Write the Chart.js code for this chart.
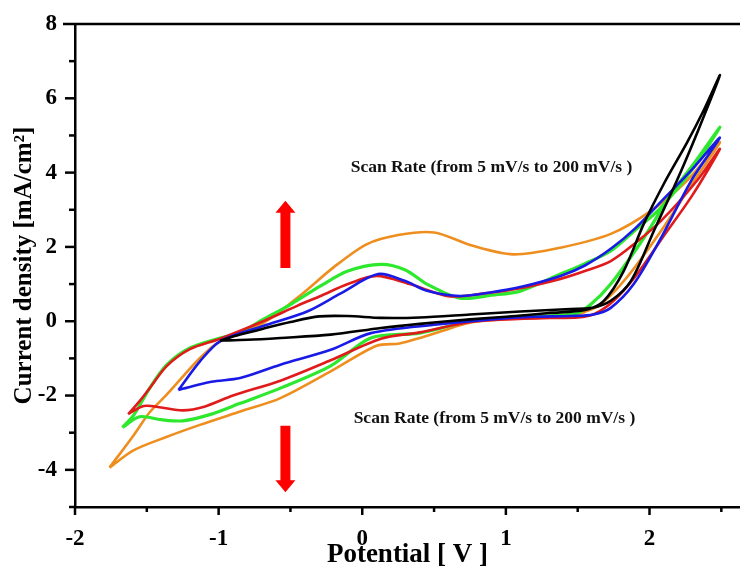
<!DOCTYPE html>
<html lang="en">
<head>
    <meta charset="UTF-8">
    <title>Cyclic voltammetry</title>
    <script src="https://cdn.jsdelivr.net/npm/chart.js@4.4.1/dist/chart.umd.min.js"></script>
    <style>
        html, body {
            margin: 0;
            padding: 0;
            background: #ffffff;
        }
        .wrap {
            width: 740px;
            height: 571px;
        }
    </style>
</head>
<body>
    <div class="wrap">
        <canvas id="cvChart" width="740" height="571"></canvas>
    </div>

    <script>
        // one closed loop per scan rate: forward (anodic) branch, then the return branch
        const potential5 = [-0.99, -0.85, -0.69, -0.5, -0.3, -0.1, 0.13, 0.4, 0.75, 1.1, 1.45, 1.6, 1.73, 1.87, 2.03, 2.19, 2.34, 2.49,
                            2.38, 2.26, 2.1, 1.96, 1.82, 1.68, 1.55, 1.3, 1.0, 0.75, 0.4, 0.13, -0.22, -0.57, -0.8, -0.99];
        const current5 = [-0.52, -0.36, -0.2, -0.02, 0.13, 0.14, 0.09, 0.1, 0.18, 0.26, 0.33, 0.36, 0.55, 1.08, 2.43, 3.78, 5.15, 6.62,
                          5.7, 4.8, 3.7, 2.62, 1.35, 0.54, 0.3, 0.22, 0.12, 0.05, -0.07, -0.18, -0.36, -0.45, -0.5, -0.52];

        const potential20 = [-1.28, -1.13, -0.99, -0.69, -0.38, -0.15, 0.11, 0.3, 0.45, 0.68, 0.9, 1.1, 1.38, 1.55, 1.73, 1.9, 2.1, 2.3, 2.49,
                             2.29, 2.08, 1.89, 1.73, 1.61, 1.45, 1.2, 0.9, 0.52, 0.06, -0.22, -0.57, -0.85, -1.05, -1.28];
        const current20 = [-1.85, -1.08, -0.54, -0.13, 0.27, 0.75, 1.27, 1.08, 0.82, 0.68, 0.78, 0.92, 1.22, 1.5, 1.95, 2.5, 3.3, 4.1, 4.94,
                           3.78, 2.24, 1.0, 0.36, 0.18, 0.14, 0.12, 0.05, -0.09, -0.32, -0.77, -1.17, -1.53, -1.63, -1.85];

        const potential50 = [-1.63, -1.55, -1.48, -1.36, -1.2, -0.99, -0.69, -0.45, -0.29, -0.1, 0.1, 0.33, 0.61, 0.85, 1.1, 1.38, 1.55, 1.73, 1.9, 2.08, 2.33, 2.49,
                             2.3, 2.1, 1.9, 1.75, 1.62, 1.5, 1.31, 1.0, 0.75, 0.4, 0.13, -0.22, -0.57, -0.9, -1.1, -1.25, -1.4, -1.52, -1.63];
        const current50 = [-2.5, -2.15, -1.8, -1.2, -0.75, -0.47, 0.0, 0.42, 0.68, 1.0, 1.22, 1.0, 0.67, 0.75, 0.89, 1.14, 1.35, 1.62, 2.1, 2.7, 3.78, 4.64,
                           3.4, 2.3, 1.2, 0.55, 0.2, 0.1, 0.09, 0.05, -0.02, -0.3, -0.47, -1.05, -1.6, -2.0, -2.3, -2.4, -2.32, -2.28, -2.5];

        const potential100 = [-1.67, -1.59, -1.48, -1.36, -1.2, -0.99, -0.85, -0.69, -0.5, -0.29, -0.1, 0.13, 0.3, 0.45, 0.68, 0.9, 1.1, 1.38, 1.55, 1.73, 1.9, 2.08, 2.3, 2.49,
                              2.32, 2.15, 1.96, 1.73, 1.59, 1.48, 1.1, 0.75, 0.4, 0.06, -0.22, -0.57, -0.85, -1.05, -1.25, -1.4, -1.55, -1.67];
        const current100 = [-2.86, -2.52, -1.8, -1.17, -0.72, -0.45, -0.3, 0.05, 0.45, 0.95, 1.35, 1.53, 1.38, 1.0, 0.62, 0.7, 0.81, 1.27, 1.55, 1.89, 2.45, 3.06, 4.1, 5.22,
                            4.3, 3.42, 2.24, 1.0, 0.45, 0.2, 0.12, 0.0, -0.32, -0.45, -1.2, -1.8, -2.21, -2.5, -2.68, -2.65, -2.57, -2.86];

        const potential200 = [-1.76, -1.59, -1.48, -1.36, -1.13, -0.99, -0.69, -0.43, -0.2, 0.03, 0.25, 0.5, 0.77, 1.05, 1.38, 1.73, 2.01, 2.26, 2.49,
                              2.31, 2.08, 1.84, 1.66, 1.55, 1.45, 1.1, 0.75, 0.55, 0.4, 0.26, 0.1, -0.22, -0.57, -0.85, -1.13, -1.36, -1.59, -1.76];
        const current200 = [-3.94, -3.06, -2.45, -1.97, -0.99, -0.54, -0.05, 0.7, 1.45, 2.07, 2.32, 2.39, 2.03, 1.8, 1.98, 2.35, 2.97, 3.78, 4.82,
                            3.78, 2.43, 1.17, 0.45, 0.25, 0.13, 0.08, -0.04, -0.27, -0.45, -0.6, -0.66, -1.35, -2.07, -2.43, -2.79, -3.11, -3.47, -3.94];

        const scanRates = ['5 mV/s', '20 mV/s', '50 mV/s', '100 mV/s', '200 mV/s'];
        const curveColors = ['#000000', '#1a1ae6', '#e01b1b', '#2de82d', '#ee8e1e'];
        const noteText = 'Scan Rate (from 5 mV/s to 200 mV/s )';

        const serif = '"Liberation Serif", "Times New Roman", serif';

        function toPoints(xs, ys) {
            return xs.map((x, i) => ({ x: x, y: ys[i] }));
        }

        const loops = [
            toPoints(potential5, current5),
            toPoints(potential20, current20),
            toPoints(potential50, current50),
            toPoints(potential100, current100),
            toPoints(potential200, current200)
        ];

        // top frame line, tick marks, the two notes and the red arrows
        const decorPlugin = {
            id: 'decor',
            afterDraw(chart) {
                const ctx = chart.ctx;
                const area = chart.chartArea;
                const xs = chart.scales.x;
                const ys = chart.scales.y;
                ctx.save();
                ctx.strokeStyle = '#000';
                ctx.lineWidth = 2.5;

                ctx.beginPath();
                ctx.moveTo(area.left - 12, area.top);
                ctx.lineTo(area.right, area.top);
                ctx.stroke();

                for (let v = -2; v <= 2.5; v += 0.5) {
                    const px = xs.getPixelForValue(v);
                    const len = Number.isInteger(v) ? 8 : 5;
                    ctx.beginPath();
                    ctx.moveTo(px, area.bottom);
                    ctx.lineTo(px, area.bottom + len);
                    ctx.stroke();
                }
                for (let v = -5; v <= 7; v += 1) {
                    const py = ys.getPixelForValue(v);
                    const len = v % 2 === 0 ? 10 : 6;
                    ctx.beginPath();
                    ctx.moveTo(area.left, py);
                    ctx.lineTo(area.left - len, py);
                    ctx.stroke();
                }

                ctx.fillStyle = '#111';
                ctx.font = 'bold 17.5px ' + serif;
                ctx.textBaseline = 'middle';
                ctx.textAlign = 'left';
                ctx.fillText(noteText, xs.getPixelForValue(-0.08), ys.getPixelForValue(4.13));
                ctx.fillText(noteText, xs.getPixelForValue(-0.06), ys.getPixelForValue(-2.62));

                ctx.fillStyle = '#ff0000';
                const ax = xs.getPixelForValue(-0.535);
                drawArrow(ctx, ax, ys.getPixelForValue(1.43), ys.getPixelForValue(3.24));
                drawArrow(ctx, ax, ys.getPixelForValue(-2.81), ys.getPixelForValue(-4.6));
                ctx.restore();
            }
        };

        function drawArrow(ctx, x, yTail, yTip) {
            const dir = yTip < yTail ? -1 : 1;
            const headLen = 12;
            const yBase = yTip - dir * headLen;
            ctx.beginPath();
            ctx.moveTo(x - 5, yTail);
            ctx.lineTo(x - 5, yBase);
            ctx.lineTo(x - 10, yBase);
            ctx.lineTo(x, yTip);
            ctx.lineTo(x + 10, yBase);
            ctx.lineTo(x + 5, yBase);
            ctx.lineTo(x + 5, yTail);
            ctx.closePath();
            ctx.fill();
        }

        // invisible tick marks only push the labels away from the axis
        const hiddenGrid = len => ({
            display: true,
            drawOnChartArea: false,
            drawTicks: true,
            tickLength: len,
            color: 'rgba(0,0,0,0)'
        });

        new Chart(document.getElementById('cvChart'), {
            type: 'scatter',
            data: {
                datasets: loops.map((pts, i) => ({
                    label: scanRates[i],
                    data: pts,
                    showLine: true,
                    borderColor: curveColors[i],
                    borderWidth: i === 3 ? 3.2 : 2.6,
                    pointRadius: 0,
                    tension: 0.3,
                    fill: false
                }))
            },
            options: {
                responsive: false,
                animation: false,
                layout: { padding: { top: 24, right: 0, left: 0, bottom: 0 } },
                plugins: {
                    legend: { display: false },
                    tooltip: { enabled: false }
                },
                scales: {
                    x: {
                        type: 'linear',
                        min: -2,
                        max: 2.63,
                        afterFit: s => { s.height = 64; },
                        grid: hiddenGrid(18),
                        border: { display: true, color: '#000', width: 2.5 },
                        ticks: {
                            stepSize: 1,
                            padding: 0,
                            color: '#000',
                            font: { family: serif, size: 23, weight: 'bold' },
                            callback: v => Number.isInteger(v) ? String(v) : ''
                        },
                        title: {
                            display: true,
                            text: 'Potential [ V ]',
                            color: '#000',
                            font: { family: serif, size: 27, weight: 'bold' },
                            padding: { top: 0, bottom: 0 }
                        }
                    },
                    y: {
                        type: 'linear',
                        min: -5,
                        max: 8,
                        afterFit: s => { s.width = 75; },
                        grid: hiddenGrid(18),
                        border: { display: true, color: '#000', width: 2.5 },
                        ticks: {
                            stepSize: 1,
                            padding: 0,
                            color: '#000',
                            font: { family: serif, size: 23, weight: 'bold' },
                            callback: v => (v % 2 === 0 && v > -5) ? String(v) : ''
                        },
                        title: {
                            display: true,
                            text: 'Current density [mA/cm²]',
                            color: '#000',
                            font: { family: serif, size: 25, weight: 'bold' },
                            padding: { top: 10, bottom: 0 }
                        }
                    }
                }
            },
            plugins: [decorPlugin]
        });
    </script>
</body>
</html>
